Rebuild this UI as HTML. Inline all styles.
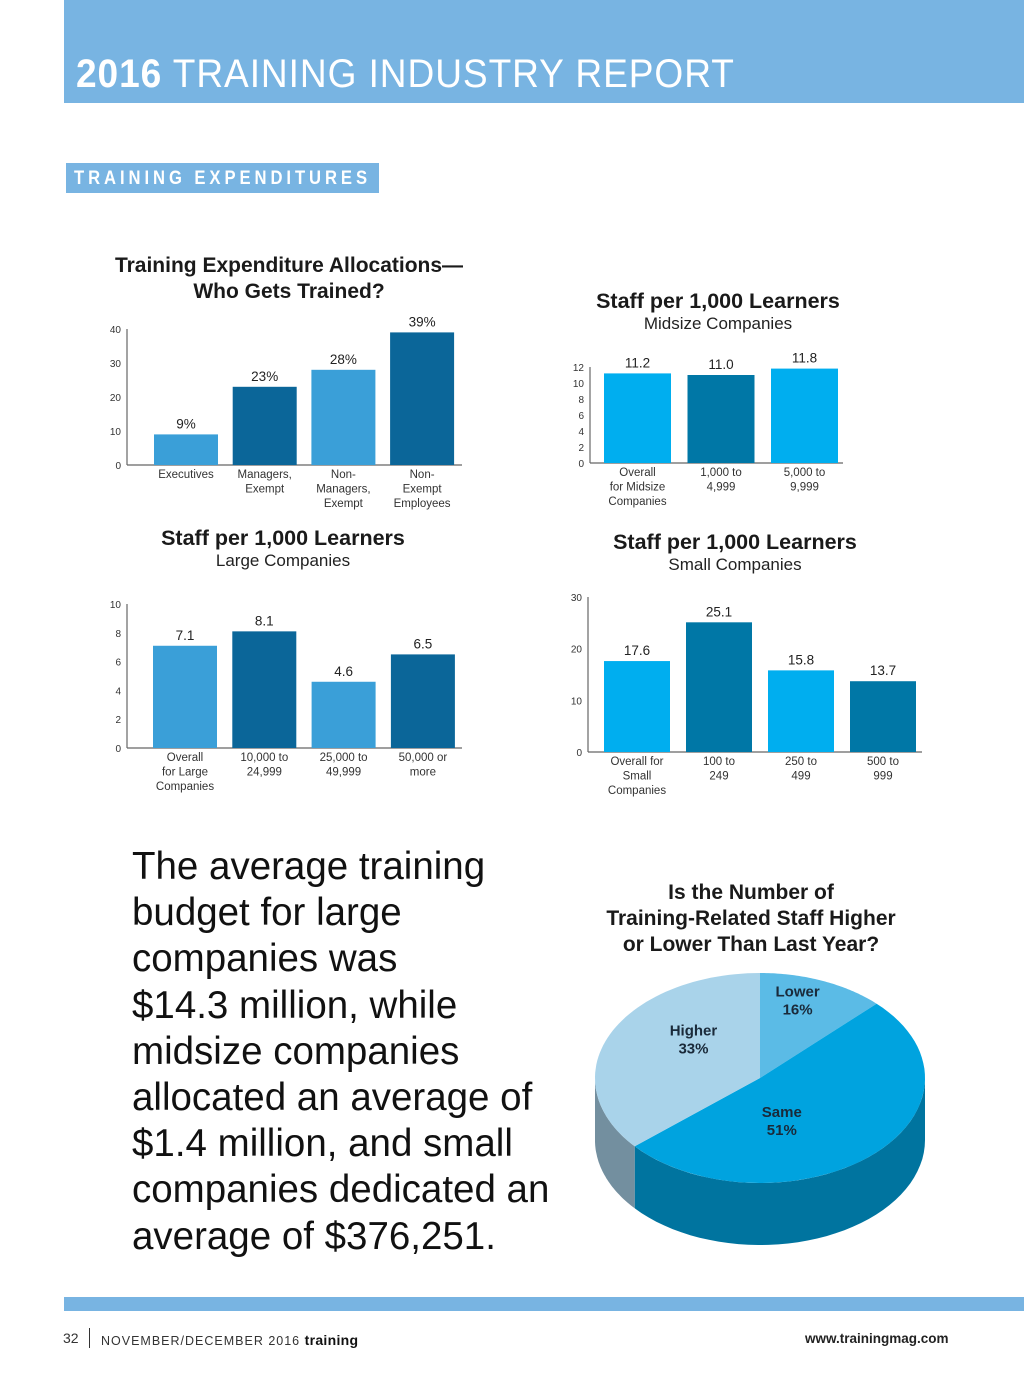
<!DOCTYPE html>
<html><head><meta charset="utf-8">
<style>
body{margin:0;width:1024px;height:1376px;background:#fff;position:relative;overflow:hidden;font-family:"Liberation Sans",sans-serif}
.abs{position:absolute}
</style></head>
<body>
<div class="abs" style="left:64px;top:0;width:960px;height:103px;background:#78b4e2"></div>
<div class="abs" style="left:76px;top:52px;font-size:40px;color:#fff;letter-spacing:1px;white-space:nowrap;transform:scaleX(0.927);transform-origin:left top"><b>2016</b> TRAINING INDUSTRY REPORT</div>
<div class="abs" style="left:66px;top:163px;width:313px;height:30px;background:#78b4e2"></div>
<div class="abs" style="left:74px;top:164px;color:#fff;font-weight:bold;font-size:19px;letter-spacing:4.5px;line-height:30px;white-space:nowrap;transform:scaleX(0.875);transform-origin:left top">TRAINING EXPENDITURES</div>

<svg class="abs" style="left:0;top:0" width="1024" height="1376" id="chart" font-family="Liberation Sans, sans-serif">
<text x="289" y="272" text-anchor="middle" font-size="21" font-weight="bold" fill="#1a1a1a">Training Expenditure Allocations—</text>
<text x="289" y="298" text-anchor="middle" font-size="21" font-weight="bold" fill="#1a1a1a">Who Gets Trained?</text>
<text x="718" y="308" text-anchor="middle" font-size="21.5" font-weight="bold" fill="#1a1a1a">Staff per 1,000 Learners</text>
<text x="718" y="329" text-anchor="middle" font-size="17" fill="#222">Midsize Companies</text>
<text x="283" y="545" text-anchor="middle" font-size="21.5" font-weight="bold" fill="#1a1a1a">Staff per 1,000 Learners</text>
<text x="283" y="566" text-anchor="middle" font-size="17" fill="#222">Large Companies</text>
<text x="735" y="549" text-anchor="middle" font-size="21.5" font-weight="bold" fill="#1a1a1a">Staff per 1,000 Learners</text>
<text x="735" y="570" text-anchor="middle" font-size="17" fill="#222">Small Companies</text>
<g id="bars"></g>
<text x="751" y="899" text-anchor="middle" font-size="21" font-weight="bold" fill="#1a1a1a">Is the Number of</text>
<text x="751" y="925" text-anchor="middle" font-size="21" font-weight="bold" fill="#1a1a1a">Training-Related Staff Higher</text>
<text x="751" y="951" text-anchor="middle" font-size="21" font-weight="bold" fill="#1a1a1a">or Lower Than Last Year?</text>
<g id="pie"></g>
</svg>

<div class="abs" style="left:132px;top:844px;font-size:38.5px;line-height:46.2px;color:#111;white-space:nowrap">The average training<br>budget for large<br>companies was<br>$14.3 million, while<br>midsize companies<br>allocated an average of<br>$1.4 million, and small<br>companies dedicated an<br>average of $376,251.</div>

<div class="abs" style="left:64px;top:1297px;width:960px;height:14px;background:#78b4e2"></div>
<div class="abs" style="left:63px;top:1330px;font-size:14px;color:#333">32</div>
<div class="abs" style="left:89px;top:1328px;width:1px;height:20px;background:#333"></div>
<div class="abs" style="left:101px;top:1332px;font-size:12.5px;letter-spacing:1px;color:#333;white-space:nowrap">NOVEMBER/DECEMBER 2016 <b style="letter-spacing:0.3px;font-size:14px;color:#111">training</b></div>
<div class="abs" style="left:805px;top:1331px;font-size:13.5px;font-weight:bold;color:#222">www.trainingmag.com</div>

<script>
const c1Cats=[["Executives"],["Managers,","Exempt"],["Non-","Managers,","Exempt"],["Non-","Exempt","Employees"]];
const c1Vals=[9,23,28,39];
const c1Labels=["9%","23%","28%","39%"];
const c1Ticks=[0,10,20,30,40];
const c2Cats=[["Overall","for Midsize","Companies"],["1,000 to","4,999"],["5,000 to","9,999"]];
const c2Vals=[11.2,11.0,11.8];
const c2Labels=["11.2","11.0","11.8"];
const c2Ticks=[0,2,4,6,8,10,12];
const c3Cats=[["Overall","for Large","Companies"],["10,000 to","24,999"],["25,000 to","49,999"],["50,000 or","more"]];
const c3Vals=[7.1,8.1,4.6,6.5];
const c3Labels=["7.1","8.1","4.6","6.5"];
const c3Ticks=[0,2,4,6,8,10];
const c4Cats=[["Overall for","Small","Companies"],["100 to","249"],["250 to","499"],["500 to","999"]];
const c4Vals=[17.6,25.1,15.8,13.7];
const c4Labels=["17.6","25.1","15.8","13.7"];
const c4Ticks=[0,10,20,30];
const pieCats=["Lower","Same","Higher"];
const pieVals=[16,51,33];

const NS="http://www.w3.org/2000/svg";
const barsG=document.getElementById('bars');
function mk(tag,attrs,parent){const e=document.createElementNS(NS,tag);for(const k in attrs)e.setAttribute(k,attrs[k]);parent.appendChild(e);return e;}
function barChart(id,cfg,cats,vals,labels,ticks){
  const g=mk('g',{},barsG);
  
  
  const yMax=ticks[ticks.length-1];
  const y=v=>cfg.y0-(v/yMax)*(cfg.y0-cfg.yTop);
  const xAxis=mk('line',{x1:cfg.ax,x2:cfg.axEnd,y1:cfg.y0,y2:cfg.y0,stroke:'#666','stroke-width':1.2},g);
  
  
  const yAxis=mk('line',{x1:cfg.ax,x2:cfg.ax,y1:cfg.y0,y2:cfg.yTop,stroke:'#666','stroke-width':1.2},g);
  
  
  ticks.forEach(t=>{
    const tl=mk('text',{x:cfg.ax-6,y:y(t)+4,'text-anchor':'end','font-size':10,fill:'#333'},g);
    tl.textContent=t;
    
    
  });
  vals.forEach((v,i)=>{
    const x=cfg.x0+i*cfg.step;
    const r=mk('rect',{x:x,y:y(v),width:cfg.bw,height:cfg.y0-y(v),fill:i%2?cfg.dark:cfg.light},g);
    
    
    const vl=mk('text',{x:x+cfg.bw/2,y:y(v)-6,'text-anchor':'middle','font-size':13.5,fill:'#222'},g);
    vl.textContent=labels[i];
    
    
    cats[i].forEach((ln,j)=>{
      const cl=mk('text',{x:x+cfg.bw/2,y:cfg.y0+13+j*14.5,'text-anchor':'middle','font-size':11.5,fill:'#333'},g);
      cl.textContent=ln;
      
      
    });
  });
}
barChart('allocations-chart',{ax:127,axEnd:462,y0:465,yTop:329,x0:154,step:78.7,bw:64,light:'#3a9fd8',dark:'#0b6699'},c1Cats,c1Vals,c1Labels,c1Ticks);
barChart('midsize-chart',{ax:590,axEnd:843,y0:463,yTop:367,x0:604,step:83.5,bw:67,light:'#00aeef',dark:'#0077a6'},c2Cats,c2Vals,c2Labels,c2Ticks);
barChart('large-chart',{ax:127,axEnd:462,y0:748,yTop:604,x0:153,step:79.3,bw:64,light:'#3a9fd8',dark:'#0b6699'},c3Cats,c3Vals,c3Labels,c3Ticks);
barChart('small-chart',{ax:588,axEnd:922,y0:752,yTop:597,x0:604,step:82,bw:66,light:'#00aeef',dark:'#0077a6'},c4Cats,c4Vals,c4Labels,c4Ticks);

const pieG=document.getElementById('pie');
const cx=760,cy=1078,rx=165,ry=105,depth=62;
const topCols=['#5bbbe6','#00a3df','#a9d3ea'];
const sideCols=['#3f8fb8','#00749f','#738f9f'];
const total=pieVals.reduce((a,b)=>a+b,0);
const warp=t=>t-0.244*Math.sin(2*t);
const pt=(t,dy)=>[cx+rx*Math.sin(t),cy-ry*Math.cos(t)+(dy||0)];
let acc=0;
const angs=pieVals.map(v=>{const a0=acc/total*2*Math.PI;acc+=v;return [warp(a0),warp(acc/total*2*Math.PI),warp((a0+acc/total*2*Math.PI)/2)];});
angs.forEach(([a0,a1],i)=>{
  const s=Math.max(a0,Math.PI/2),e=Math.min(a1,3*Math.PI/2);
  if(e<=s)return;
  let d='';const n=40;
  for(let k=0;k<=n;k++){const p=pt(s+(e-s)*k/n);d+=(k?'L':'M')+p[0].toFixed(1)+','+p[1].toFixed(1);}
  for(let k=n;k>=0;k--){const p=pt(s+(e-s)*k/n,depth);d+='L'+p[0].toFixed(1)+','+p[1].toFixed(1);}
  const side=mk('path',{d:d+'Z',fill:sideCols[i]},pieG);
  
  
});
const labF=[0.78,0.42,0.55];
angs.forEach(([a0,a1,mid],i)=>{
  let d='M'+cx+','+cy;const n=60;
  for(let k=0;k<=n;k++){const p=pt(a0+(a1-a0)*k/n);d+='L'+p[0].toFixed(1)+','+p[1].toFixed(1);}
  const sl=mk('path',{d:d+'Z',fill:topCols[i]},pieG);
  
  
  const f=labF[i];
  const lx=cx+rx*f*Math.sin(mid), ly=cy-ry*f*Math.cos(mid);
  const l1=mk('text',{x:lx,y:ly-3,'text-anchor':'middle','font-size':15,'font-weight':'bold',fill:'#1a2a3a'},pieG);
  l1.textContent=pieCats[i];
  
  
  const l2=mk('text',{x:lx,y:ly+15,'text-anchor':'middle','font-size':15,'font-weight':'bold',fill:'#1a2a3a'},pieG);
  l2.textContent=pieVals[i]+'%';
  
  
});
</script>
</body></html>
